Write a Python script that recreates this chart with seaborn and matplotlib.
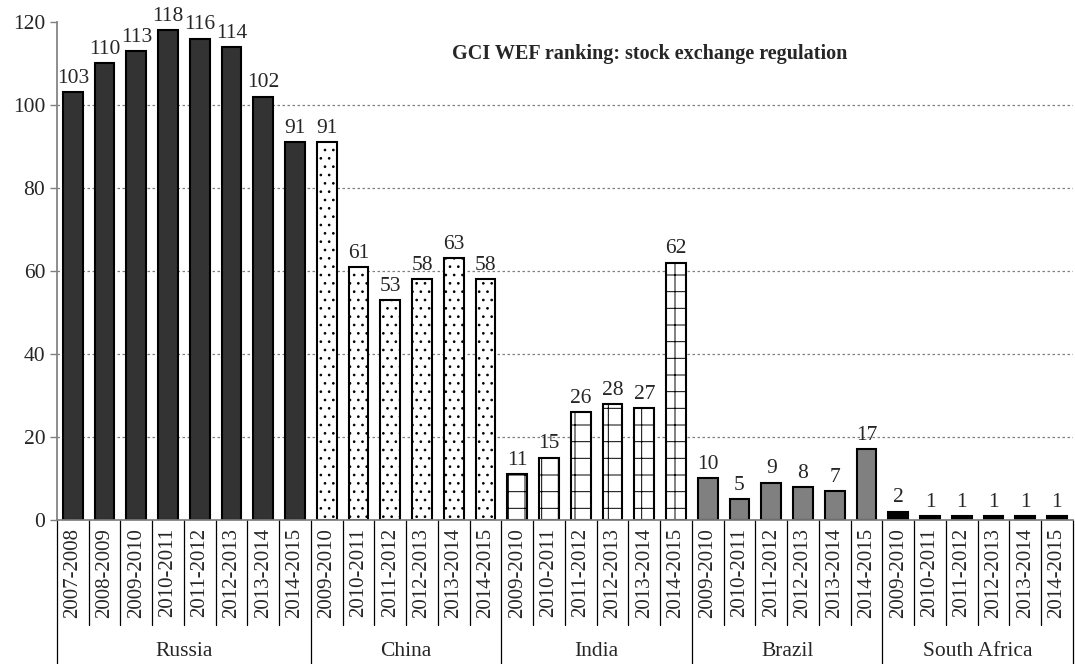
import seaborn as sns
import matplotlib.pyplot as plt
import matplotlib.transforms as mtrans
import pandas as pd

countries = ['Russia', 'China', 'India', 'Brazil', 'South Africa']
russia_years = ['2007-2008', '2008-2009', '2009-2010', '2010-2011',
                '2011-2012', '2012-2013', '2013-2014', '2014-2015']
other_years = ['2009-2010', '2010-2011', '2011-2012', '2012-2013',
               '2013-2014', '2014-2015']
russia_vals = [103, 110, 113, 118, 116, 114, 102, 91]
china_vals = [91, 61, 53, 58, 63, 58]
india_vals = [11, 15, 26, 28, 27, 62]
brazil_vals = [10, 5, 9, 8, 7, 17]
safrica_vals = [2, 1, 1, 1, 1, 1]
title = 'GCI WEF ranking: stock exchange regulation'

series = [russia_vals, china_vals, india_vals, brazil_vals, safrica_vals]
rows = []
for c, vals in zip(countries, series):
    years = russia_years if c == 'Russia' else other_years
    for y, v in zip(years, vals):
        rows.append({'country': c, 'year': y, 'key': f'{c}|{y}', 'value': v})
df = pd.DataFrame(rows)

sns.set_theme(style='white')
plt.rcParams['font.family'] = ['Liberation Serif', 'DejaVu Serif']
plt.rcParams['hatch.linewidth'] = 0.7

colors = {'Russia': '#333333', 'China': 'white', 'India': 'white',
          'Brazil': '#808080', 'South Africa': 'black'}
hatches = {'Russia': '', 'China': '..', 'India': '+', 'Brazil': '', 'South Africa': ''}

fig = plt.figure(figsize=(10.75, 6.64), dpi=100)
ax = fig.add_axes([0.053, 0.217, 0.945, 0.75])

sns.barplot(data=df, x='key', y='value', hue='country', palette=colors,
            dodge=False, width=0.62, edgecolor='black', linewidth=1.5,
            legend=False, ax=ax)

for cont, c in zip(ax.containers, countries):
    for p in cont:
        p.set_hatch(hatches[c])
    ax.bar_label(cont, fmt='%d', padding=3, fontsize=15.5)

n = len(df)
ax.set_xlim(-0.5, n - 0.5)
ax.set_ylim(0, 120)
ax.set_yticks(range(0, 121, 20))
ax.tick_params(axis='y', labelsize=15.5, length=5, direction='out', left=True,
               width=1, color='#808080')
for yv in range(20, 120, 20):
    ax.axhline(yv, linestyle=(0, (2, 2)), color='#808080', linewidth=0.9, zorder=0)

ax.set_xticks(range(n))
ax.set_xticklabels(df['year'], rotation=90, fontsize=15)
ax.tick_params(axis='x', length=0, pad=6)
ax.set_xlabel('')
ax.set_ylabel('')
for s in ['top', 'right']:
    ax.spines[s].set_visible(False)
ax.spines['left'].set_color('#808080')
ax.spines['bottom'].set_color('#808080')

# separators under the axis
trans = mtrans.blended_transform_factory(ax.transData, ax.transAxes)
starts = [0]
for vals in series:
    starts.append(starts[-1] + len(vals))
for i in range(n + 1):
    x = i - 0.5
    low = -0.29 if i in starts else -0.211
    ax.plot([x, x], [0, low], transform=trans, color='black', linewidth=0.9, clip_on=False)

for c, s0, s1 in zip(countries, starts[:-1], starts[1:]):
    ax.text((s0 + s1 - 1) / 2, -0.264, c, transform=trans, ha='center', va='center', fontsize=15.5)

ax.text(0.583, 0.935, title, transform=ax.transAxes, ha='center', va='center',
        fontsize=14.5, fontweight='bold')

fig.savefig('out.png', dpi=100)
